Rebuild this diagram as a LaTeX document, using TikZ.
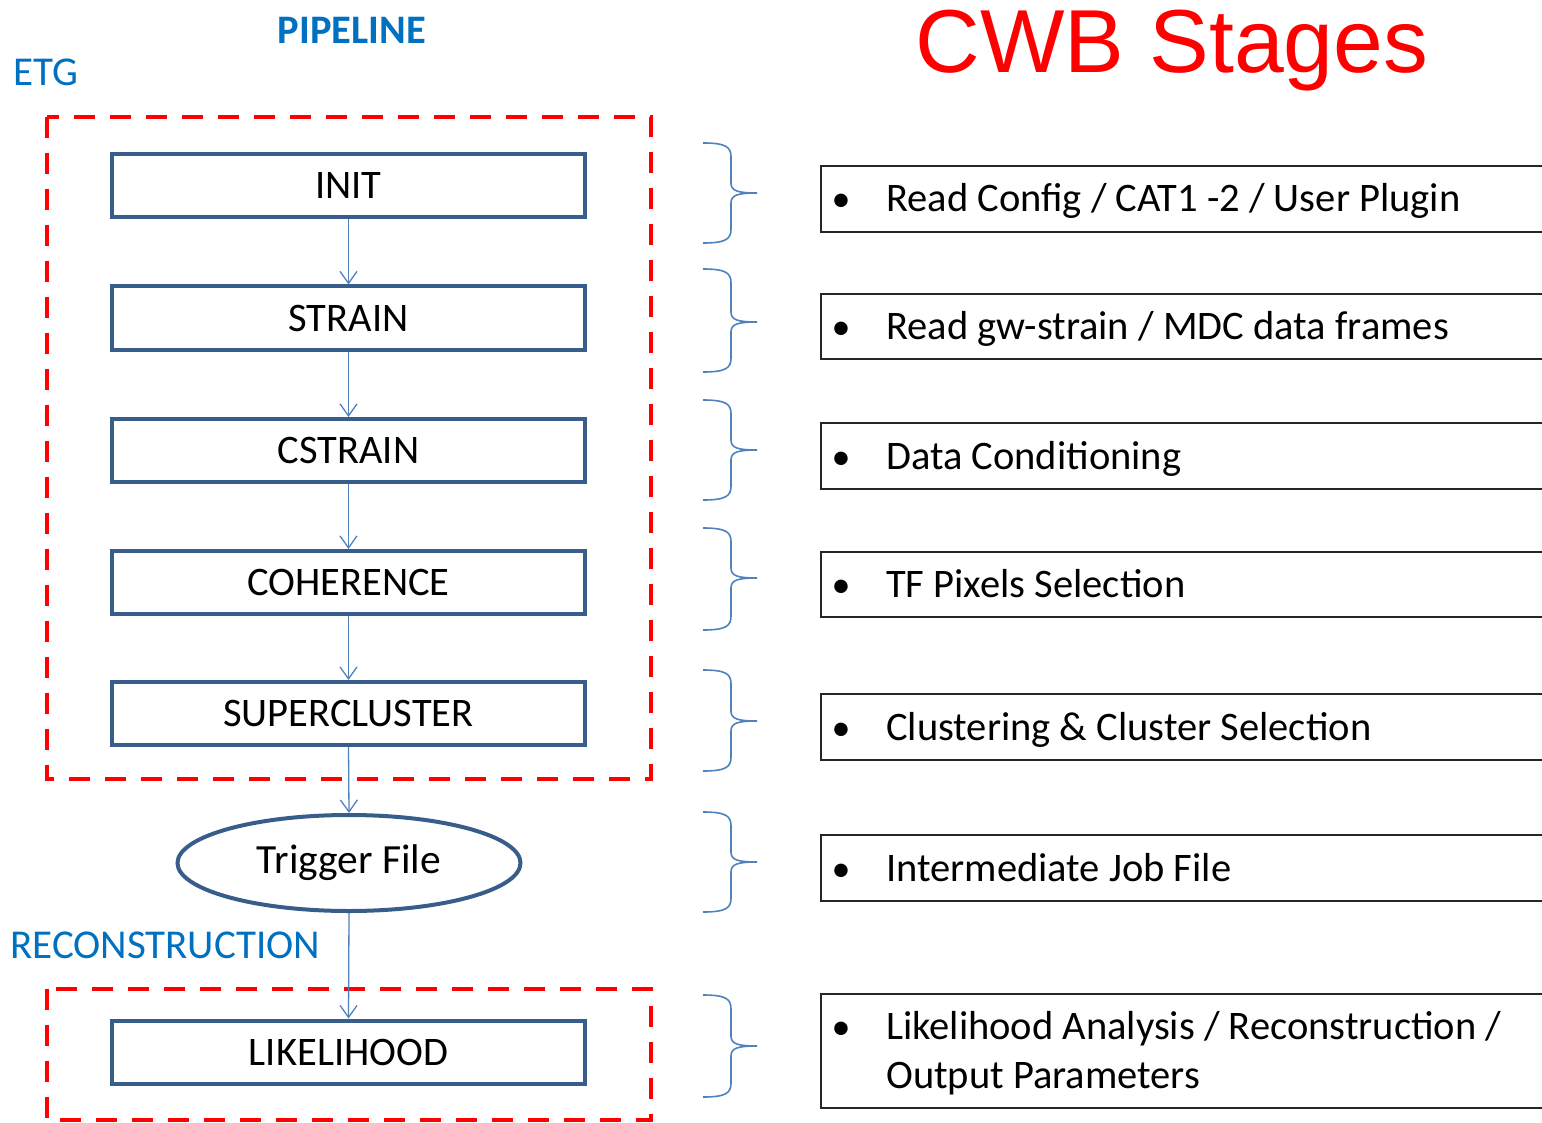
\documentclass[tikz,border=0pt]{standalone}
\usepackage{fontspec}
\setmainfont{Carlito}
\newfontfamily\arialfont{Liberation Sans}
\usetikzlibrary{arrows.meta,shapes.geometric}
\definecolor{boxblue}{RGB}{56,93,138}
\definecolor{linkblue}{RGB}{79,129,189}
\definecolor{labelblue}{RGB}{0,112,192}
\definecolor{cwbred}{RGB}{255,0,0}
\begin{document}
\begin{tikzpicture}[x=1pt,y=-1pt,
  stage/.style={draw=boxblue,line width=4pt,minimum width=473pt,minimum height=63pt,inner sep=0pt,font=\fontsize{40.5}{46}\selectfont},
  flow/.style={draw=linkblue,line width=1.3pt,-{Straight Barb[length=12pt,width=17pt,line width=1.3pt]}},
  groupbox/.style={draw=cwbred,line width=4pt,dash pattern=on 21pt off 15pt},
  bracestyle/.style={draw=linkblue,line width=1.6pt},
  descbox/.style={draw=black!85,line width=1.6pt,minimum width=760pt,inner sep=0pt,anchor=west},
  desc/.style={anchor=base west,inner sep=0pt,font=\fontsize{40.5}{46}\selectfont},
  bul/.style={anchor=base,inner sep=0pt,font=\fontsize{38}{44}\selectfont},
  lbl/.style={text=labelblue,inner sep=0pt,font=\fontsize{41}{46}\selectfont}
]
\useasboundingbox (0,0) rectangle (1542,1123);
\clip (0,0) rectangle (1542,1123);

% titles and labels
\node[lbl,font=\fontsize{40.5}{46}\selectfont\bfseries] (pipeline) at (352,30) {PIPELINE};
\node[lbl,anchor=west] (etg) at (13,72) {ETG};
\node[lbl,anchor=west] (reco) at (10,945) {RECONSTRUCTION};
\node[anchor=base,inner sep=0pt,text=cwbred,font=\arialfont\fontsize{89.5}{100}\selectfont] (cwb) at (1172,73) {CWB Stages};

% red dashed groups
\draw[groupbox] (47,117) rectangle (651,779);
\draw[groupbox] (47,989) rectangle (651,1120);

% stages
\node[stage] (init) at (348.5,186) {INIT};
\node[stage] (strain) at (348.5,318) {STRAIN};
\node[stage] (cstrain) at (348.5,450.5) {CSTRAIN};
\node[stage] (coh) at (348.5,582.5) {COHERENCE};
\node[stage] (super) at (348.5,713.5) {SUPERCLUSTER};
\node[ellipse,draw=boxblue,line width=4pt,minimum width=343pt,minimum height=96pt,inner sep=0pt,font=\fontsize{41.5}{46}\selectfont] (trig) at (349,863) {Trigger File};
\node[stage] (like) at (348.5,1052) {LIKELIHOOD};

% flow arrows
\draw[flow] (init.south) -- (strain.north);
\draw[flow] (strain.south) -- (cstrain.north);
\draw[flow] (cstrain.south) -- (coh.north);
\draw[flow] (coh.south) -- (super.north);
\draw[flow] (super.south) -- (trig.north);
\draw[flow] (trig.south) -- (like.north);

% braces
\foreach \t/\m/\b in {143/193/243, 269/322/372, 400/450/500, 528/578/630, 670/721/771, 812/862/912, 995/1046/1097} {
  \draw[bracestyle] (703,\t) .. controls (726,\t) and (731,\t+4) .. (731,\t+14) -- (731,\m-10) .. controls (731,\m-2) and (738,\m) .. (757,\m)
     .. controls (738,\m) and (731,\m+2) .. (731,\m+10) -- (731,\b-14) .. controls (731,\b-4) and (726,\b) .. (703,\b);
}

% description boxes
\node[descbox,minimum height=66pt] (d1) at (820,199) {};
\node[descbox,minimum height=65pt] (d2) at (820,326.5) {};
\node[descbox,minimum height=66pt] (d3) at (820,456) {};
\node[descbox,minimum height=65pt] (d4) at (820,584.5) {};
\node[descbox,minimum height=66pt] (d5) at (820,727) {};
\node[descbox,minimum height=66pt] (d6) at (820,868) {};
\node[descbox,minimum height=114pt] (d7) at (820,1051) {};

\node[bul] (b1) at (841,212) {•};
\node[desc] (t1) at (886,212) {Read Config / CAT1 -2 / User Plugin};
\node[bul] (b2) at (841,339) {•};
\node[desc] (t2) at (886,339) {Read gw-strain / MDC data frames};
\node[bul] (b3) at (841,469) {•};
\node[desc] (t3) at (886,469) {Data Conditioning};
\node[bul] (b4) at (841,597) {•};
\node[desc] (t4) at (886,597) {TF Pixels Selection};
\node[bul] (b5) at (841,740) {•};
\node[desc] (t5) at (886,740) {Clustering \& Cluster Selection};
\node[bul] (b6) at (841,881) {•};
\node[desc] (t6) at (886,881) {Intermediate Job File};
\node[bul] (b7) at (841,1039) {•};
\node[desc] (t7a) at (886,1039) {Likelihood Analysis / Reconstruction /};
\node[desc] (t7b) at (886,1088) {Output Parameters};
\end{tikzpicture}
\end{document}
